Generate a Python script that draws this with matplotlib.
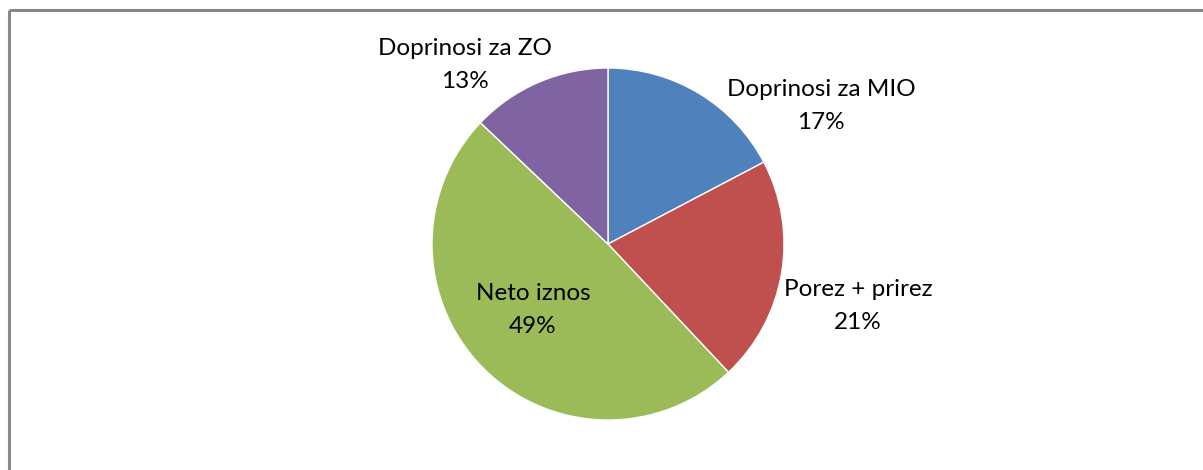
import matplotlib.pyplot as plt

labels = ['Doprinosi za MIO', 'Porez + prirez', 'Neto iznos', 'Doprinosi za ZO']
values = [17.3, 20.7, 49.1, 12.9]
pct_text = ['17%', '21%', '49%', '13%']
colors = ['#4F81BD', '#C0504D', '#9BBB59', '#8064A2']

# label centres in pixel space (x, y from top)
label_pos = [(821, 106), (858, 306), (533, 310), (465, 65)]

W, H = 1203, 470
fig = plt.figure(figsize=(W / 100, H / 100), dpi=100)
ax = fig.add_axes([0, 0, 1, 1])

ax.pie(values, colors=colors, startangle=90, counterclock=False,
       center=(608, H - 244), radius=176, frame=True,
       wedgeprops=dict(edgecolor='white', linewidth=1))
ax.set_xlim(0, W)
ax.set_ylim(0, H)
ax.set_aspect('equal')
ax.axis('off')

for lab, pct, (x, y) in zip(labels, pct_text, label_pos):
    ax.text(x, H - y, lab + '\n' + pct, ha='center', va='center',
            fontsize=17.5, family='Lato', linespacing=1.65, color='#000000')

# chart border (top and left only visible)
ax.plot([8.5, W], [H - 9.5, H - 9.5], color='#888888', lw=2.2, solid_capstyle='butt')
ax.plot([8.5, 8.5], [0, H - 9.5], color='#888888', lw=2.2, solid_capstyle='butt')

fig.savefig('out.png', dpi=100)
